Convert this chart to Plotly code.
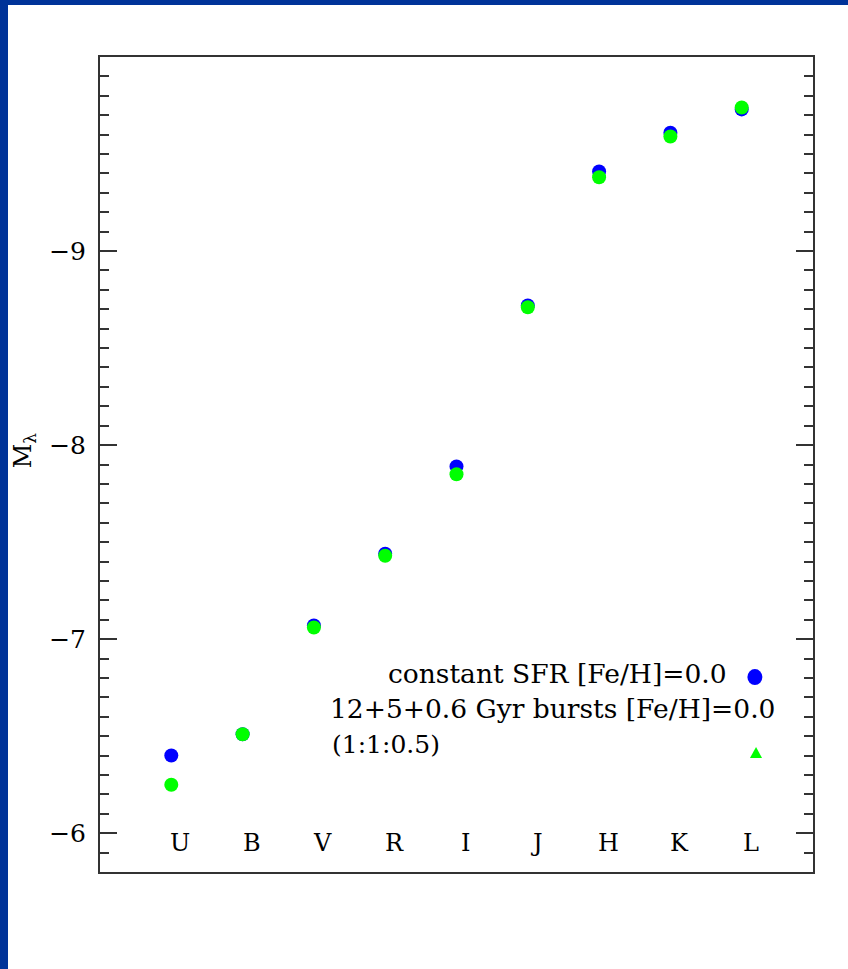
import plotly.graph_objects as go

bands = ["U", "B", "V", "R", "I", "J", "H", "K", "L"]
band_pos = [1, 2, 3, 4, 5, 6, 7, 8, 9]
const_sfr = [-6.40, -6.51, -7.07, -7.44, -7.89, -8.72, -9.41, -9.61, -9.73]
bursts = [-6.25, -6.51, -7.06, -7.43, -7.85, -8.71, -9.38, -9.59, -9.74]

legend_lines = ["constant SFR [Fe/H]=0.0", "12+5+0.6 Gyr bursts [Fe/H]=0.0", "(1:1:0.5)"]
ytick_vals = [-9, -8, -7, -6]

FONT = "DejaVu Serif"
BORDER = "#003399"

fig = go.Figure()
fig.add_trace(go.Scatter(x=band_pos, y=const_sfr, mode="markers",
                         marker=dict(color="#0000ff", size=14, line=dict(width=0)),
                         showlegend=False))
fig.add_trace(go.Scatter(x=band_pos, y=bursts, mode="markers",
                         marker=dict(color="#00ff00", size=14, line=dict(width=0)),
                         showlegend=False))

annotations = []
for b, p in zip(bands, band_pos):
    annotations.append(dict(x=p, y=0.0356, xref="x", yref="paper", text=b,
                            showarrow=False, xshift=9, yanchor="middle",
                            font=dict(family=FONT, size=24, color="black")))
annotations.append(dict(x=0.641, y=0.244, xref="paper", yref="paper", text=legend_lines[0],
                        showarrow=False, xanchor="center", yanchor="middle",
                        font=dict(family=FONT, size=26.5, color="black")))
annotations.append(dict(x=0.635, y=0.201, xref="paper", yref="paper", text=legend_lines[1],
                        showarrow=False, xanchor="center", yanchor="middle",
                        font=dict(family=FONT, size=26.5, color="black")))
annotations.append(dict(x=0.3226, y=0.157, xref="paper", yref="paper", text=legend_lines[2],
                        showarrow=False, xanchor="left", yanchor="middle",
                        font=dict(family=FONT, size=25, color="black")))
annotations.append(dict(x=-0.106, y=0.518, xref="paper", yref="paper", text="M<sub>λ</sub>",
                        showarrow=False, textangle=-90, xanchor="center", yanchor="middle",
                        font=dict(family=FONT, size=24, color="black")))

shapes = [
    # blue page border (left and top strips)
    dict(type="rect", xref="paper", yref="paper", x0=-0.15, x1=(8 - 100) / 713,
         y0=-0.2, y1=1.2, fillcolor=BORDER, line=dict(width=0), layer="above"),
    dict(type="rect", xref="paper", yref="paper", x0=-0.15, x1=1.1,
         y0=(872 - 5) / 815, y1=1.2, fillcolor=BORDER, line=dict(width=0), layer="above"),
    # legend keys
    dict(type="circle", xref="paper", yref="paper", x0=0.908, x1=0.929, y0=0.2294, y1=0.249,
         fillcolor="#0000ff", line=dict(width=0)),
    dict(type="path", xref="paper", yref="paper",
         path="M 0.9116 0.1399 L 0.9285 0.1399 L 0.9201 0.1534 Z",
         fillcolor="#00ff00", line=dict(width=0)),
]

fig.update_layout(
    width=848, height=969,
    margin=dict(l=100, r=35, t=57, b=97),
    paper_bgcolor="white", plot_bgcolor="white",
    showlegend=False,
    annotations=annotations,
    shapes=shapes,
    xaxis=dict(range=[0, 10], showgrid=False, zeroline=False, showticklabels=False,
               ticks="", showline=True, linecolor="#333333", linewidth=2, mirror=True),
    yaxis=dict(range=[-5.8, -10.0], showgrid=False, zeroline=False,
               tickvals=ytick_vals, ticks="inside", ticklen=17, tickwidth=1.5, tickcolor="#333333",
               minor=dict(dtick=0.1, ticks="inside", ticklen=9, tickwidth=1.5, tickcolor="#333333"),
               showline=True, linecolor="#333333", linewidth=2, mirror="ticks",
               ticklabelstandoff=7,
               tickfont=dict(family=FONT, size=25, color="black")),
)

fig.write_html("out.html")
